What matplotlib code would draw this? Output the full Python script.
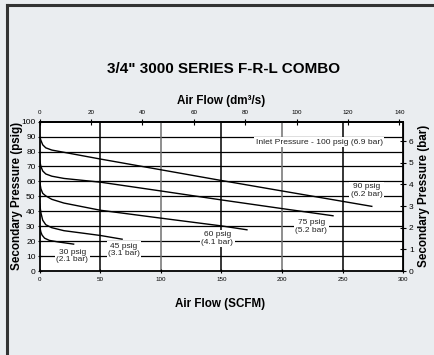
import matplotlib
matplotlib.use("Agg")
import matplotlib.pyplot as plt
from matplotlib.lines import Line2D

plt.rcParams['font.family'] = ['Liberation Sans', 'DejaVu Sans']

# Regulated (secondary) pressure vs. flow, one curve per setting
flow_90 = [0, 1, 2.5, 5, 10, 20, 50, 100, 150, 200, 274]
psig_90 = [90, 87.5, 84.5, 82.5, 81, 79.5, 75, 67.8, 60.6, 53.6, 43.3]

flow_75 = [0, 1, 2.5, 5, 10, 20, 50, 100, 150, 200, 242]
psig_75 = [74, 70, 67, 65, 63.5, 62, 59.5, 53.6, 47.6, 41.8, 37]

flow_60 = [0, 1, 2.5, 5, 10, 20, 50, 100, 150, 171]
psig_60 = [60, 55, 52, 50.3, 48, 45.5, 40.7, 35.4, 30.2, 27.6]

flow_45 = [0, 1, 2.5, 5, 10, 20, 37, 50, 68]
psig_45 = [45, 39, 34, 31, 29, 27, 25.2, 23.8, 21.3]

flow_30 = [0, 1, 2, 4, 8, 15, 28]
psig_30 = [30, 26, 24, 22, 20.5, 19.5, 18]

curves = [(flow_90, psig_90), (flow_75, psig_75), (flow_60, psig_60),
          (flow_45, psig_45), (flow_30, psig_30)]

curve_labels = ["90 psig\n(6.2 bar)", "75 psig\n(5.2 bar)", "60 psig\n(4.1 bar)",
                "45 psig\n(3.1 bar)", "30 psig\n(2.1 bar)"]
label_flow = [269.7, 224, 146.5, 69.5, 27]
label_psig = [54, 30, 21.8, 14, 10]

scfm_ticks = [0, 50, 100, 150, 200, 250, 300]
psig_ticks = [0, 10, 20, 30, 40, 50, 60, 70, 80, 90, 100]
dm3s_ticks = [0, 20, 40, 60, 80, 100, 120, 140]
bar_ticks = [0, 1, 2, 3, 4, 5, 6]

SCFM_TO_DM3S = 0.4719
PSI_TO_BAR = 1 / 14.504

fig = plt.figure(figsize=(4.35, 3.55), dpi=100)
fig.patch.set_facecolor('#eaedf0')

# outer frame (left and top edges)
fig.add_artist(Line2D([7 / 435, 7 / 435], [0, 1 - 5 / 355], transform=fig.transFigure,
                      color='#333333', lw=2.2))
fig.add_artist(Line2D([7 / 435, 1], [1 - 5 / 355, 1 - 5 / 355], transform=fig.transFigure,
                      color='#333333', lw=2.2))

ax = fig.add_axes([39.7 / 435, 1 - 271 / 355, 363.6 / 435, 149.3 / 355])
ax.set_facecolor('white')
ax.set_xlim(0, 300)
ax.set_ylim(0, 100)

# grid
for v in psig_ticks[1:-1]:
    ax.axhline(v, color='black', lw=0.9, zorder=1)
for v in scfm_ticks[1:-1]:
    col = '#707070' if v in (100, 200) else 'black'
    ax.axvline(v, color=col, lw=1.1, zorder=1)

for fx, py in curves:
    ax.plot(fx, py, color='black', lw=1.0, zorder=2)

box = dict(facecolor='white', edgecolor='none', pad=1.0)
for txt, fx, py in zip(curve_labels, label_flow, label_psig):
    ax.text(fx, py, txt, ha='center', va='center', fontsize=6, color='#222222',
            linespacing=1.15, bbox=box, zorder=3)
ax.text(230.7, 86.2, "Inlet Pressure - 100 psig (6.9 bar)", ha='center', va='center',
        fontsize=6.1, color='#222222', bbox=box, zorder=3)

for s in ax.spines.values():
    s.set_linewidth(1.3)
    s.set_color('black')

ax.set_xticks(scfm_ticks)
ax.set_yticks(psig_ticks)
ax.tick_params(axis='x', direction='inout', length=3, width=0.8, labelsize=4.5, pad=3)
ax.tick_params(axis='y', direction='inout', length=3, width=0.8, labelsize=6, pad=1.5)

top = ax.secondary_xaxis('top', functions=(lambda x: x * SCFM_TO_DM3S,
                                           lambda x: x / SCFM_TO_DM3S))
top.set_xticks(dm3s_ticks)
top.tick_params(direction='inout', length=4, width=0.8, labelsize=4.5, pad=3)
top.spines['top'].set_linewidth(1.3)

right = ax.secondary_yaxis('right', functions=(lambda y: y * PSI_TO_BAR,
                                               lambda y: y / PSI_TO_BAR))
right.set_yticks(bar_ticks)
right.tick_params(direction='inout', length=4, width=0.8, labelsize=6, pad=2)

ax.set_xlabel("Air Flow (SCFM)", fontsize=8.4, fontweight='bold')
ax.xaxis.set_label_coords(0.495, -0.178)
ax.set_ylabel("Secondary Pressure (psig)", fontsize=8.4, fontweight='bold')
ax.yaxis.set_label_coords(-0.046, 0.5)
top.set_xlabel("Air Flow (dm³/s)", fontsize=8.4, fontweight='bold', labelpad=4)
right.set_ylabel("Secondary Pressure (bar)", fontsize=8.4, fontweight='bold', labelpad=3)

fig.text(224 / 435, 1 - 69 / 355, '3/4" 3000 SERIES F-R-L COMBO', ha='center', va='center',
         fontsize=11, fontweight='bold')

fig.savefig("out.png", dpi=100, facecolor=fig.get_facecolor())
